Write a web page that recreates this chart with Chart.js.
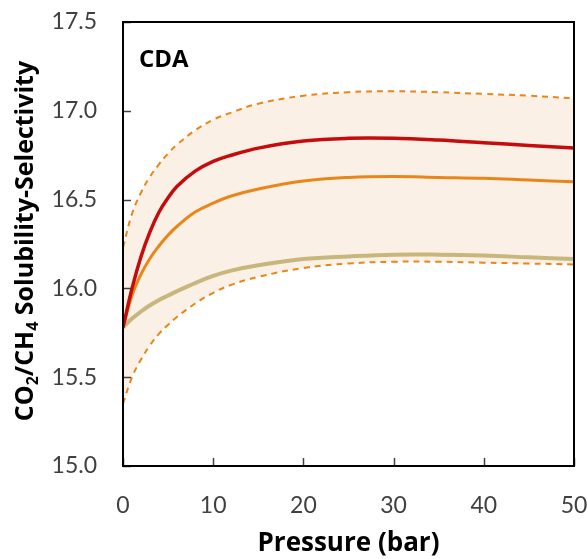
<!DOCTYPE html>
<html>
<head>
<meta charset="utf-8">
<script src="https://cdn.jsdelivr.net/npm/chart.js@4/dist/chart.umd.min.js"></script>
<style>
  html, body { margin: 0; padding: 0; background: #fff; }
</style>
</head>
<body>
<canvas id="chart" width="587" height="559"></canvas>
<script>
// pressure (bar) sample points shared by every curve
const pressure = [0, 1, 2, 3, 4, 5, 6, 8, 10, 12, 15, 20, 25, 30, 35, 40, 45, 50];

// solubility-selectivity curves
const redCurve    = [15.78, 16.00, 16.18, 16.32, 16.43, 16.51, 16.575, 16.66, 16.715, 16.75, 16.79, 16.83, 16.845, 16.845, 16.835, 16.82, 16.805, 16.79];
const orangeCurve = [15.78, 15.96, 16.08, 16.17, 16.24, 16.30, 16.35, 16.43, 16.48, 16.52, 16.56, 16.605, 16.625, 16.63, 16.625, 16.62, 16.61, 16.60];
const tanCurve    = [15.78, 15.83, 15.87, 15.905, 15.935, 15.96, 15.985, 16.03, 16.07, 16.10, 16.13, 16.165, 16.18, 16.19, 16.19, 16.185, 16.175, 16.165];
const upperBound  = [16.23, 16.42, 16.54, 16.63, 16.70, 16.76, 16.81, 16.89, 16.95, 16.99, 17.04, 17.085, 17.105, 17.11, 17.105, 17.095, 17.085, 17.07];
const lowerBound  = [15.35, 15.50, 15.60, 15.68, 15.745, 15.795, 15.84, 15.915, 15.975, 16.02, 16.065, 16.115, 16.14, 16.15, 16.15, 16.145, 16.14, 16.135];

const xTicks = [0, 10, 20, 30, 40, 50];
const yTicks = [15.0, 15.5, 16.0, 16.5, 17.0, 17.5];

const FONT = "Lato, 'Open Sans', sans-serif";
const BOLD_FONT = "'Open Sans', Lato, sans-serif";

function pts(values) {
  return pressure.map((p, i) => ({ x: p, y: values[i] }));
}

/* frame, inward ticks, panel label and y title with subscripts */
const decorations = {
  id: "decorations",
  afterDatasetsDraw(chart) {
    const { ctx, chartArea: a, scales } = chart;
    ctx.save();

    // inward tick marks
    ctx.strokeStyle = "#404040";
    ctx.lineWidth = 1.5;
    yTicks.forEach(v => {
      const y = Math.round(scales.y.getPixelForValue(v)) + 0.5;
      ctx.beginPath(); ctx.moveTo(a.left, y); ctx.lineTo(a.left + 8, y); ctx.stroke();
    });
    xTicks.forEach(v => {
      const x = Math.round(scales.x.getPixelForValue(v)) + 0.5;
      ctx.beginPath(); ctx.moveTo(x, a.bottom); ctx.lineTo(x, a.bottom - 8); ctx.stroke();
    });

    // plot box
    ctx.strokeStyle = "#000";
    ctx.lineWidth = 2;
    ctx.strokeRect(a.left, a.top, a.right - a.left, a.bottom - a.top);

    // panel label
    ctx.fillStyle = "#000";
    ctx.font = "bold 24px " + BOLD_FONT;
    ctx.textBaseline = "alphabetic";
    ctx.textAlign = "left";
    ctx.fillText("CDA", a.left + 16, a.top + 45);

    // y axis title: CO2/CH4 Solubility-Selectivity
    const parts = [
      { t: "CO", sub: false }, { t: "2", sub: true },
      { t: "/CH", sub: false }, { t: "4", sub: true },
      { t: " Solubility-Selectivity", sub: false }
    ];
    const big = "bold 25px " + BOLD_FONT, small = "bold 16px " + BOLD_FONT;
    let total = 0;
    parts.forEach(p => { ctx.font = p.sub ? small : big; p.w = ctx.measureText(p.t).width; total += p.w; });
    ctx.translate(33, 241);
    ctx.rotate(-Math.PI / 2);
    let x = -total / 2;
    parts.forEach(p => {
      ctx.font = p.sub ? small : big;
      ctx.fillText(p.t, x, p.sub ? 5 : 0);
      x += p.w;
    });
    ctx.restore();
  }
};

const lineBase = { pointRadius: 0, tension: 0.4, fill: false };

new Chart(document.getElementById("chart"), {
  type: "line",
  data: {
    datasets: [
      { ...lineBase, label: "Model 1", data: pts(redCurve), borderColor: "#C40C0C", borderWidth: 3.5 },
      { ...lineBase, label: "Model 2", data: pts(orangeCurve), borderColor: "#E8861A", borderWidth: 3 },
      { ...lineBase, label: "Model 3", data: pts(tanCurve), borderColor: "#C8B77C", borderWidth: 4 },
      { ...lineBase, label: "Upper bound", data: pts(upperBound), borderColor: "#E8861A", borderWidth: 2,
        borderDash: [6, 5], fill: "+1", backgroundColor: "#FBF0E6" },
      { ...lineBase, label: "Lower bound", data: pts(lowerBound), borderColor: "#E8861A", borderWidth: 2,
        borderDash: [6, 5] }
    ]
  },
  options: {
    responsive: false,
    animation: false,
    layout: { padding: { top: 22, right: 13, left: 0, bottom: 0 } },
    plugins: {
      legend: { display: false },
      tooltip: { enabled: false },
      filler: { drawTime: "beforeDatasetsDraw" }
    },
    scales: {
      x: {
        type: "linear", min: 0, max: 50,
        afterBuildTicks: s => { s.ticks = xTicks.map(v => ({ value: v })); },
        afterFit: s => { s.height = 93; s.paddingLeft = 0; s.paddingRight = 0; },
        grid: { display: false, drawTicks: false },
        border: { display: false },
        ticks: { color: "#404040", font: { family: FONT, size: 23 }, padding: 26, maxRotation: 0 },
        title: { display: true, text: "Pressure (bar)", color: "#000", font: { family: BOLD_FONT, size: 26, weight: "bold" }, padding: { top: 0, bottom: 0 } }
      },
      y: {
        min: 15, max: 17.5,
        afterBuildTicks: s => { s.ticks = yTicks.map(v => ({ value: v })); },
        afterFit: s => { s.width = 123; s.paddingTop = 0; s.paddingBottom = 0; },
        grid: { display: false, drawTicks: false },
        border: { display: false },
        ticks: { color: "#404040", font: { family: FONT, size: 23 }, padding: 26, callback: v => v.toFixed(1) }
      }
    }
  },
  plugins: [decorations]
});
</script>
</body>
</html>
